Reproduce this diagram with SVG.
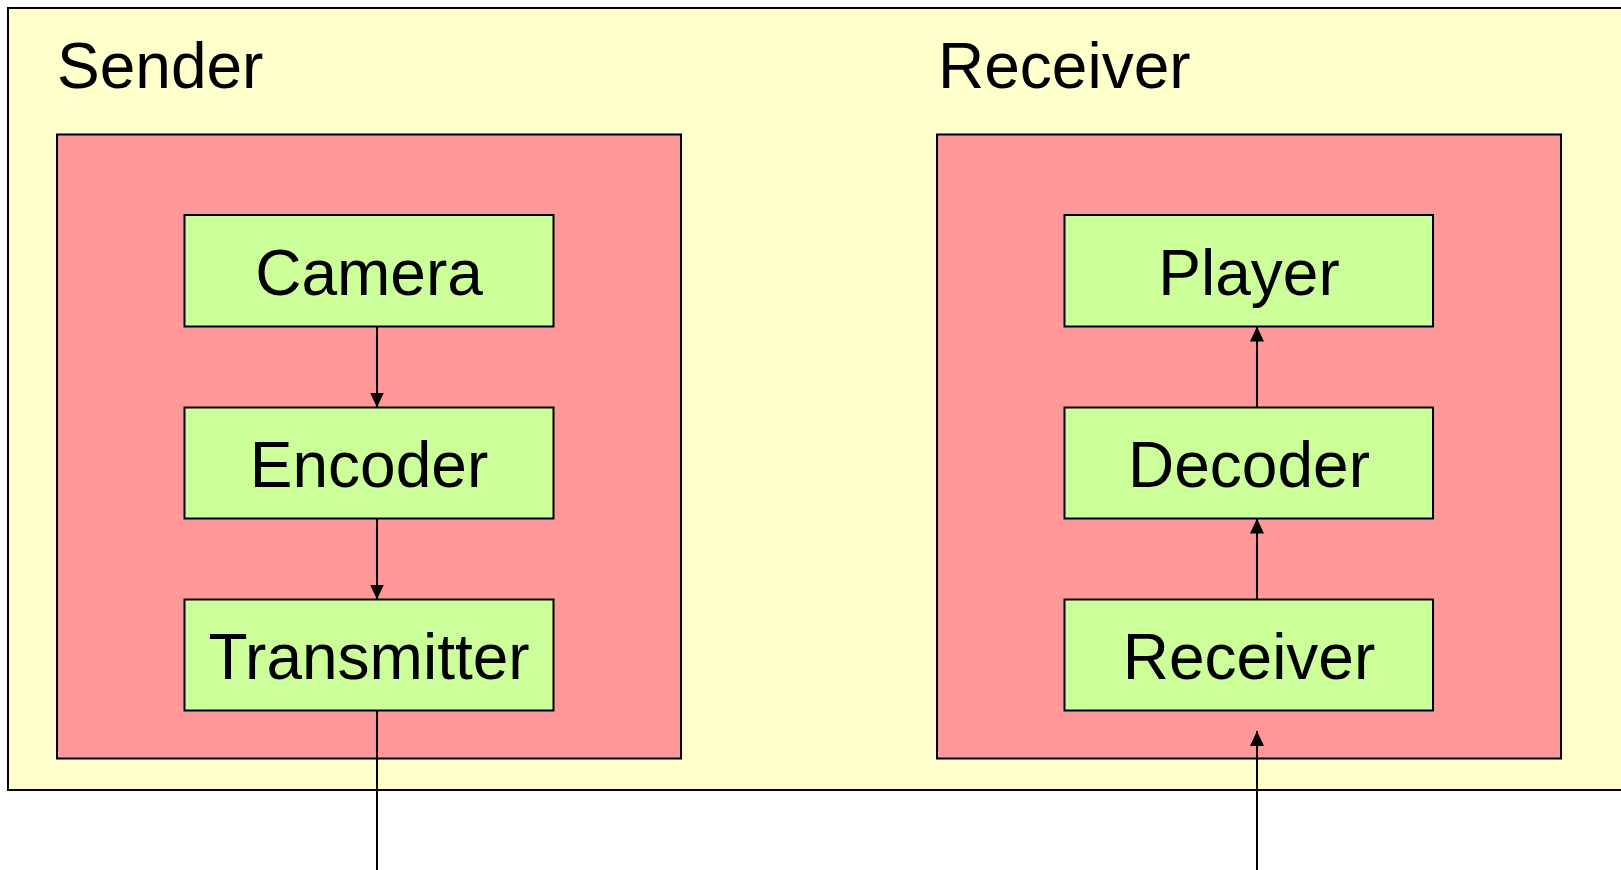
<svg xmlns="http://www.w3.org/2000/svg" width="1621" height="870" viewBox="0 0 1621 870">
<style>
.outer{fill:#FFFFCC;stroke:#000;stroke-width:2}
.grp{fill:#FF9999;stroke:#000;stroke-width:2}
.box{fill:#CCFF99;stroke:#000;stroke-width:2}
.lbl{font-family:"Liberation Sans",Arial,sans-serif;font-size:64px;fill:#000}
.mid{text-anchor:middle}
.edge{stroke:#000;stroke-width:2;fill:none}
</style>
<defs>
<marker id="ah" viewBox="0 0 15 14" refX="15" refY="7" markerWidth="15" markerHeight="14" markerUnits="userSpaceOnUse" orient="auto">
<path d="M0,0 L15,7 L0,14 Z" fill="#000"/>
</marker>
</defs>
<rect width="1621" height="870" fill="#fff"/>
<g id="outer">
<rect class="outer" x="8" y="8" width="1640" height="782"/>
</g>
<g id="sender">
<text class="lbl" x="57" y="88">Sender</text>
<rect class="grp" x="57" y="134.5" width="624" height="624"/>
</g>
<g id="receiver-group">
<text class="lbl" x="938" y="88">Receiver</text>
<rect class="grp" x="937" y="134.5" width="624" height="624"/>
</g>
<g id="camera">
<rect class="box" x="184.5" y="215" width="369" height="111.5"/>
<text class="lbl mid" x="369" y="295">Camera</text>
</g>
<g id="encoder">
<rect class="box" x="184.5" y="407.5" width="369" height="111"/>
<text class="lbl mid" x="369" y="487">Encoder</text>
</g>
<g id="transmitter">
<rect class="box" x="184.5" y="599.5" width="369" height="111"/>
<text class="lbl mid" x="369" y="679">Transmitter</text>
</g>
<g id="player">
<rect class="box" x="1064.5" y="215" width="368.5" height="111.5"/>
<text class="lbl mid" x="1249" y="295">Player</text>
</g>
<g id="decoder">
<rect class="box" x="1064.5" y="407.5" width="368.5" height="111"/>
<text class="lbl mid" x="1249" y="487">Decoder</text>
</g>
<g id="receiver">
<rect class="box" x="1064.5" y="599.5" width="368.5" height="111"/>
<text class="lbl mid" x="1249" y="679">Receiver</text>
</g>
<g id="connectors">
<line class="edge" x1="377" y1="326.5" x2="377" y2="407.5" marker-end="url(#ah)"/>
<line class="edge" x1="377" y1="518.5" x2="377" y2="599.5" marker-end="url(#ah)"/>
<line class="edge" x1="377" y1="710.5" x2="377" y2="870"/>
<line class="edge" x1="1257" y1="870" x2="1257" y2="731" marker-end="url(#ah)"/>
<line class="edge" x1="1257" y1="599.5" x2="1257" y2="518.5" marker-end="url(#ah)"/>
<line class="edge" x1="1257" y1="407.5" x2="1257" y2="326.5" marker-end="url(#ah)"/>
</g>
</svg>
